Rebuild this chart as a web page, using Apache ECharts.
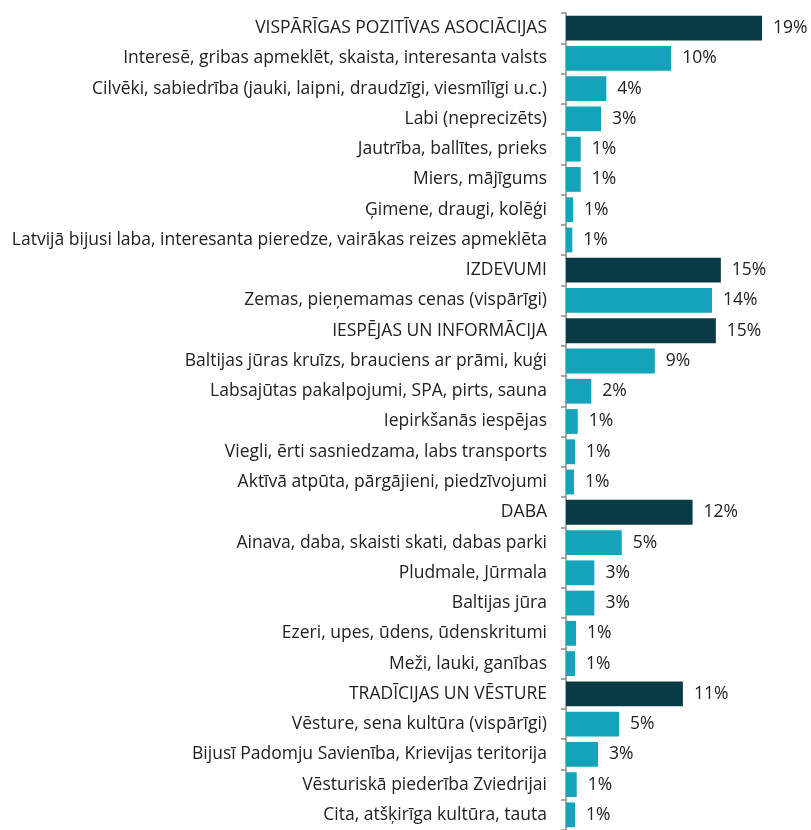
<!DOCTYPE html>
<html lang="lv">
<head>
  <meta charset="UTF-8">
  <title>Asociācijas ar Latviju</title>
  <script src="https://cdn.jsdelivr.net/npm/echarts@6/dist/echarts.min.js"></script>
  <style>
    html, body { margin: 0; padding: 0; background: #fff; }
  </style>
</head>
<body>
<div id="chart" style="width: 811px; height: 830px;"></div>

<script>
  // categories, top to bottom
  const categories = [
    'VISPĀRĪGAS POZITĪVAS ASOCIĀCIJAS',
    'Interesē, gribas apmeklēt, skaista, interesanta valsts',
    'Cilvēki, sabiedrība (jauki, laipni, draudzīgi, viesmīlīgi u.c.)',
    'Labi (neprecizēts)',
    'Jautrība, ballītes, prieks',
    'Miers, mājīgums',
    'Ģimene, draugi, kolēģi',
    'Latvijā bijusi laba, interesanta pieredze, vairākas reizes apmeklēta',
    'IZDEVUMI',
    'Zemas, pieņemamas cenas (vispārīgi)',
    'IESPĒJAS UN INFORMĀCIJA',
    'Baltijas jūras kruīzs, brauciens ar prāmi, kuģi',
    'Labsajūtas pakalpojumi, SPA, pirts, sauna',
    'Iepirkšanās iespējas',
    'Viegli, ērti sasniedzama, labs transports',
    'Aktīvā atpūta, pārgājieni, piedzīvojumi',
    'DABA',
    'Ainava, daba, skaisti skati, dabas parki',
    'Pludmale, Jūrmala',
    'Baltijas jūra',
    'Ezeri, upes, ūdens, ūdenskritumi',
    'Meži, lauki, ganības',
    'TRADĪCIJAS UN VĒSTURE',
    'Vēsture, sena kultūra (vispārīgi)',
    'Bijusī Padomju Savienība, Krievijas teritorija',
    'Vēsturiskā piederība Zviedrijai',
    'Cita, atšķirīga kultūra, tauta'
  ];

  // share of respondents, %
  const values = [
    19.2, 10.3, 3.95, 3.43, 1.44, 1.44, 0.69, 0.62,
    15.17, 14.3,
    14.68, 8.7, 2.48, 1.15, 0.88, 0.78,
    12.4, 5.46, 2.78, 2.78, 0.98, 0.88,
    11.45, 5.2, 3.14, 1.05, 0.88
  ];

  // group headings get the dark colour
  const headers = [
    'VISPĀRĪGAS POZITĪVAS ASOCIĀCIJAS',
    'IZDEVUMI',
    'IESPĒJAS UN INFORMĀCIJA',
    'DABA',
    'TRADĪCIJAS UN VĒSTURE'
  ];

  const darkColor = '#083b46';
  const lightColor = '#15a2bb';
  const textFont = 'Open Sans';
  const textColor = '#222222';

  let chart = echarts.init(document.getElementById('chart'));

  let option = {
    animation: false,
    grid: {
      left: 566,
      top: 13,
      width: 245,
      height: 821,
      containLabel: false
    },
    xAxis: {
      type: 'value',
      min: 0,
      max: 24,
      show: false
    },
    yAxis: {
      type: 'category',
      inverse: true,
      data: categories,
      axisLine: { show: true, lineStyle: { color: '#8c8c8c', width: 1.5 } },
      axisTick: { show: true, length: 5, lineStyle: { color: '#8c8c8c', width: 1.5 } },
      axisLabel: {
        margin: 19,
        fontFamily: textFont,
        fontSize: 17.5,
        color: textColor
      }
    },
    series: [{
      type: 'bar',
      barWidth: '82%',
      data: values.map(function (v, i) {
        return {
          value: v,
          itemStyle: { color: headers.indexOf(categories[i]) >= 0 ? darkColor : lightColor }
        };
      }),
      label: {
        show: true,
        position: 'right',
        distance: 11,
        fontFamily: textFont,
        fontSize: 17.5,
        color: textColor,
        formatter: function (p) {
          return Math.round(p.value) + '%';
        }
      }
    }]
  };
  chart.setOption(option);
</script>
</body>
</html>
